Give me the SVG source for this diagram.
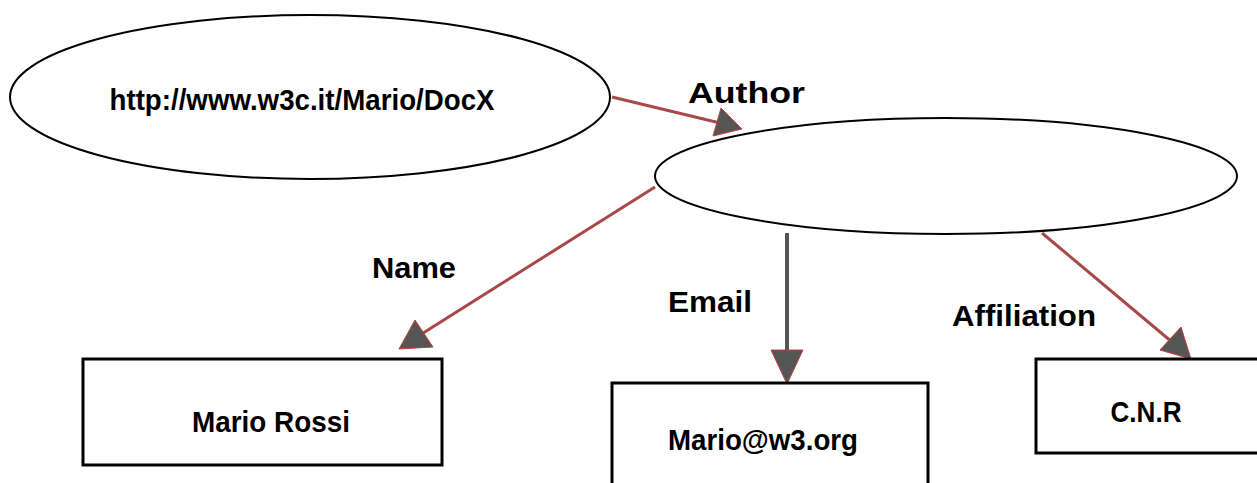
<svg xmlns="http://www.w3.org/2000/svg" width="1257" height="483" viewBox="0 0 1257 483">
  <style>
    .node { fill: #ffffff; stroke: #000000; }
    .ell { stroke-width: 2; }
    .box { stroke-width: 3; }
    .ntext { font-family: "Liberation Sans", Arial, sans-serif; font-weight: bold; font-size: 30px; fill: #000000; text-anchor: middle; }
    .label { font-family: "Liberation Sans", Arial, sans-serif; font-weight: bold; font-size: 30px; fill: #000000; }
    .edge { fill: none; stroke: #a84848; stroke-width: 3; }
    .edge.gray { stroke: #555555; stroke-width: 4; }
    .head { fill: #555555; stroke: #c04040; stroke-width: 1; }
  </style>
  <rect width="1257" height="483" fill="#ffffff"/>

  <g id="connectors">
    <!-- Author -->
    <line class="edge" x1="612" y1="97" x2="720" y2="123"/>
    <polygon class="head" points="742,129 713,136 721,108"/>
    <text class="label" x="688" y="103" font-size="34" textLength="117" lengthAdjust="spacingAndGlyphs">Author</text>
    <!-- Name -->
    <line class="edge" x1="655" y1="187" x2="420" y2="335"/>
    <polygon class="head" points="399,349 415,320 433,347"/>
    <text class="label" x="372" y="278" textLength="84" lengthAdjust="spacingAndGlyphs">Name</text>
    <!-- Email -->
    <line class="edge gray" x1="787" y1="233" x2="787" y2="354"/>
    <polygon class="head" points="787,384 771,350 803,350"/>
    <text class="label" x="668" y="312" textLength="84" lengthAdjust="spacingAndGlyphs">Email</text>
    <!-- Affiliation -->
    <line class="edge" x1="1042" y1="233" x2="1172" y2="342"/>
    <polygon class="head" points="1191,359 1160,350 1181,327"/>
    <text class="label" x="952" y="326" textLength="144" lengthAdjust="spacingAndGlyphs">Affiliation</text>
  </g>

  <g id="node-docx">
    <ellipse class="node ell" cx="310" cy="97" rx="300" ry="82"/>
    <text class="ntext" x="302" y="110" font-size="29" textLength="385" lengthAdjust="spacingAndGlyphs">http://www.w3c.it/Mario/DocX</text>
  </g>

  <g id="node-author">
    <ellipse class="node ell" cx="946" cy="176" rx="291" ry="58"/>
  </g>

  <g id="node-name">
    <rect class="node box" x="83" y="359" width="359" height="106"/>
    <text class="ntext" x="271" y="432" textLength="158" lengthAdjust="spacingAndGlyphs">Mario Rossi</text>
  </g>

  <g id="node-email">
    <rect class="node box" x="612" y="383" width="316" height="110"/>
    <text class="ntext" x="763" y="450" textLength="190" lengthAdjust="spacingAndGlyphs">Mario@w3.org</text>
  </g>

  <g id="node-affiliation">
    <rect class="node box" x="1036" y="359" width="230" height="94"/>
    <text class="ntext" x="1146" y="422" textLength="71" lengthAdjust="spacingAndGlyphs">C.N.R</text>
  </g>
</svg>
